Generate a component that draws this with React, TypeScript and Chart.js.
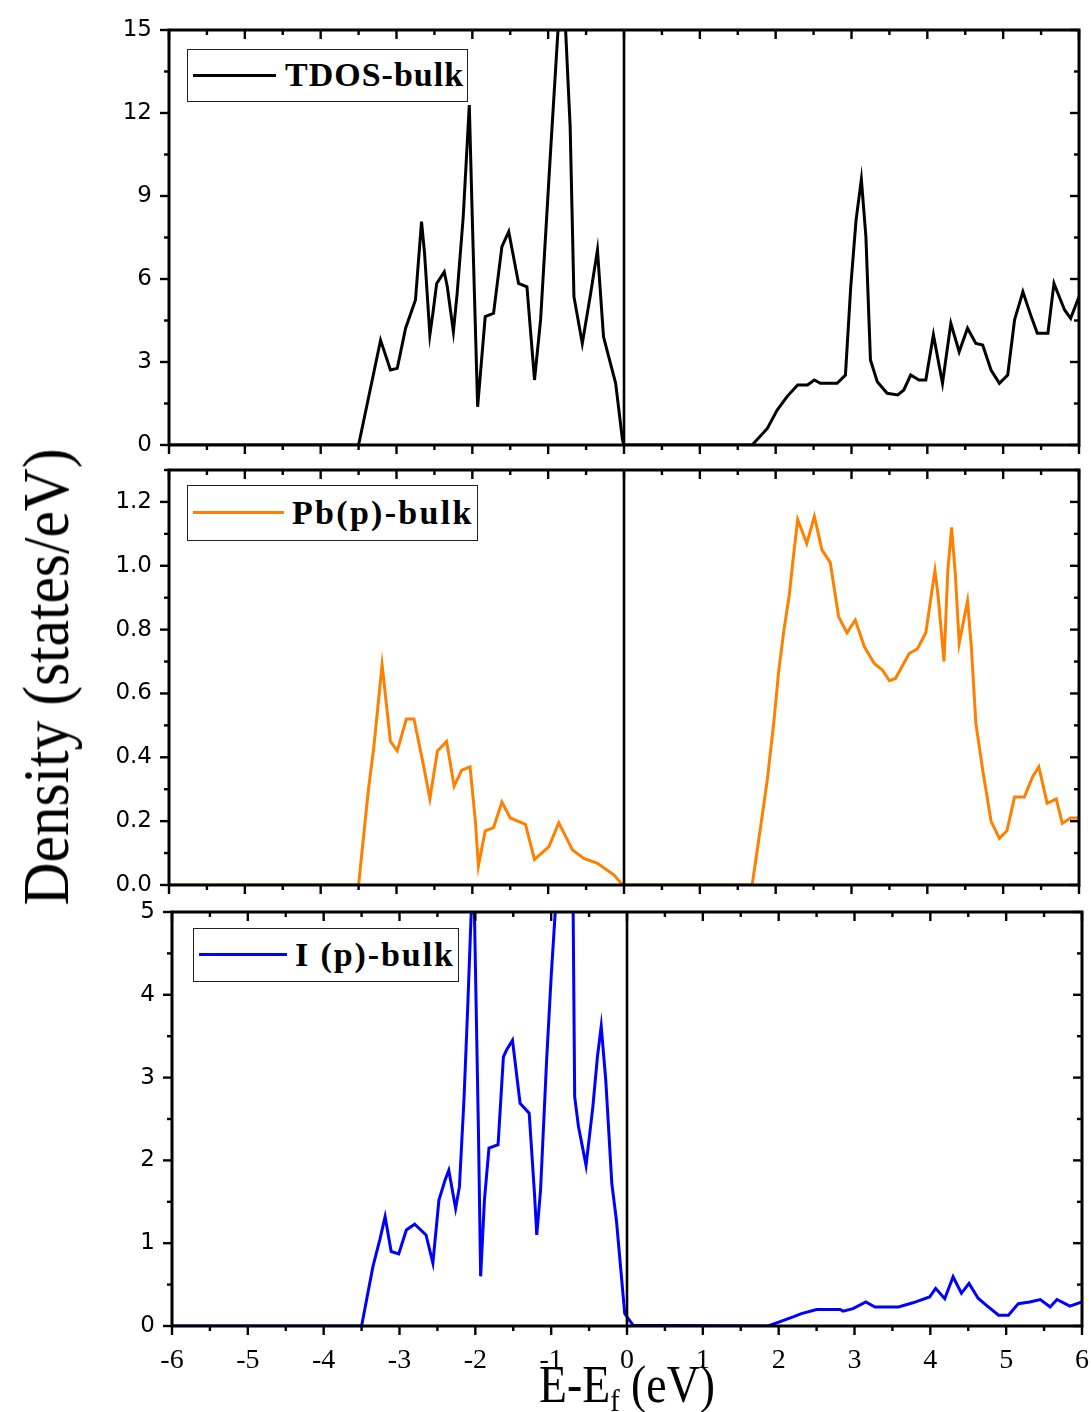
import React, { useEffect, useRef } from 'react';
import { Chart, registerables } from 'chart.js';

Chart.register(...registerables);

// ---------- data ----------
const xTickValues = [-6, -5, -4, -3, -2, -1, 0, 1, 2, 3, 4, 5, 6];

const tdosE = [-6, -3.50, -3.21, -3.08, -2.99, -2.88, -2.75, -2.67, -2.63, -2.56, -2.52, -2.47, -2.37, -2.33, -2.25, -2.20, -2.12, -2.04, -2.00, -1.93, -1.83, -1.72, -1.61, -1.52, -1.39, -1.28, -1.18, -1.10, -0.97, -0.83, -0.77, -0.71, -0.66, -0.55, -0.44, -0.35, -0.27, -0.11, -0.02, 0.0, 1.69, 1.89, 2.02, 2.15, 2.29, 2.42, 2.51, 2.59, 2.81, 2.92, 2.99, 3.06, 3.13, 3.19, 3.25, 3.34, 3.47, 3.61, 3.69, 3.78, 3.89, 3.98, 4.08, 4.20, 4.31, 4.42, 4.53, 4.64, 4.73, 4.84, 4.95, 5.06, 5.15, 5.26, 5.37, 5.45, 5.59, 5.67, 5.81, 5.89, 6.0];
const tdosDOS = [0, 0, 3.79, 2.71, 2.77, 4.22, 5.24, 8.07, 6.93, 3.98, 4.76, 5.84, 6.26, 5.72, 4.10, 5.48, 8.25, 12.29, 8.13, 1.38, 4.64, 4.76, 7.17, 7.71, 5.84, 5.72, 2.35, 4.52, 10.54, 16.8, 15.0, 11.5, 5.36, 3.67, 5.48, 7.05, 3.91, 2.23, 0.18, 0, 0, 0.60, 1.26, 1.75, 2.17, 2.17, 2.35, 2.23, 2.23, 2.53, 5.72, 8.13, 9.60, 7.53, 3.07, 2.29, 1.87, 1.81, 1.99, 2.53, 2.35, 2.35, 3.98, 2.23, 4.40, 3.37, 4.22, 3.67, 3.61, 2.71, 2.23, 2.53, 4.52, 5.54, 4.64, 4.04, 4.04, 5.84, 4.88, 4.58, 5.36];

const pbE = [-6, -3.50, -3.37, -3.30, -3.19, -3.08, -2.99, -2.87, -2.77, -2.64, -2.56, -2.46, -2.34, -2.24, -2.14, -2.03, -1.96, -1.92, -1.83, -1.72, -1.61, -1.50, -1.30, -1.18, -0.99, -0.86, -0.68, -0.53, -0.35, -0.13, -0.02, 1.69, 1.80, 1.89, 1.98, 2.04, 2.11, 2.18, 2.23, 2.29, 2.41, 2.51, 2.61, 2.72, 2.83, 2.94, 3.05, 3.17, 3.30, 3.41, 3.50, 3.58, 3.76, 3.87, 3.98, 4.10, 4.14, 4.22, 4.27, 4.32, 4.37, 4.42, 4.53, 4.58, 4.64, 4.73, 4.84, 4.95, 5.05, 5.15, 5.28, 5.39, 5.47, 5.58, 5.70, 5.78, 5.89, 6.0];
const pbDOS = [0, 0, 0.30, 0.43, 0.69, 0.45, 0.42, 0.52, 0.52, 0.37, 0.27, 0.42, 0.45, 0.31, 0.36, 0.37, 0.20, 0.06, 0.17, 0.18, 0.26, 0.21, 0.19, 0.08, 0.12, 0.195, 0.11, 0.083, 0.068, 0.031, 0, 0, 0.18, 0.33, 0.52, 0.67, 0.80, 0.91, 1.02, 1.145, 1.07, 1.155, 1.05, 1.01, 0.84, 0.79, 0.83, 0.746, 0.694, 0.673, 0.64, 0.647, 0.725, 0.74, 0.79, 0.985, 0.91, 0.70, 0.985, 1.12, 0.97, 0.757, 0.89, 0.746, 0.506, 0.36, 0.20, 0.146, 0.17, 0.276, 0.276, 0.34, 0.37, 0.256, 0.27, 0.193, 0.21, 0.21];

const iE = [-6, -3.50, -3.35, -3.26, -3.19, -3.11, -3.01, -2.91, -2.80, -2.65, -2.56, -2.48, -2.40, -2.35, -2.26, -2.21, -2.15, -2.10, -2.03, -2.01, -1.96, -1.93, -1.88, -1.82, -1.70, -1.63, -1.59, -1.51, -1.41, -1.29, -1.22, -1.19, -1.14, -1.06, -1.00, -0.85, -0.77, -0.71, -0.69, -0.64, -0.54, -0.45, -0.39, -0.34, -0.28, -0.20, -0.14, -0.03, 0.00, 0.08, 1.86, 2.01, 2.19, 2.30, 2.50, 2.81, 2.85, 2.98, 3.15, 3.27, 3.58, 3.77, 3.99, 4.07, 4.19, 4.30, 4.41, 4.51, 4.63, 4.74, 4.90, 5.03, 5.16, 5.31, 5.45, 5.58, 5.67, 5.84, 6.0];
const iDOS = [0, 0, 0.72, 1.04, 1.32, 0.90, 0.87, 1.16, 1.23, 1.10, 0.76, 1.52, 1.76, 1.88, 1.42, 1.68, 2.73, 3.86, 5.6, 4.90, 2.41, 0.60, 1.52, 2.15, 2.19, 3.25, 3.33, 3.45, 2.69, 2.57, 1.60, 1.10, 1.64, 3.21, 4.22, 6.4, 6.7, 5.0, 2.77, 2.41, 1.94, 2.65, 3.25, 3.62, 2.97, 1.72, 1.28, 0.15, 0.11, 0.01, 0, 0.05, 0.11, 0.15, 0.20, 0.20, 0.18, 0.21, 0.29, 0.23, 0.23, 0.28, 0.35, 0.455, 0.33, 0.595, 0.395, 0.515, 0.335, 0.25, 0.13, 0.13, 0.27, 0.29, 0.32, 0.23, 0.32, 0.24, 0.29];

const seriesLabels = ['TDOS-bulk', 'Pb(p)-bulk', 'I (p)-bulk'];
const seriesColors = ['#000000', '#FF8000', '#0000FF'];
const yMaxes = [15, 1.3, 5];
const yMajorSteps = [3, 0.2, 1];
const yDigits = [0, 1, 0];

// ---------- layout ----------
const W = 1091;
const PAD_TOP = 20;

const framePlugin = {
  id: 'frame',
  afterDatasetsDraw(chart: any, _args: any, opts: any) {
    const { ctx, chartArea: a, scales } = chart;
    const xs = scales.x;
    const ys = scales.y;
    const seg = (x1: number, y1: number, x2: number, y2: number) => {
      ctx.beginPath();
      ctx.moveTo(x1, y1);
      ctx.lineTo(x2, y2);
      ctx.stroke();
    };
    ctx.save();
    ctx.strokeStyle = '#000';
    ctx.lineCap = 'butt';
    // Fermi level line
    ctx.lineWidth = 2.6;
    const x0 = xs.getPixelForValue(0);
    seg(x0, a.top, x0, a.bottom);
    // x ticks (major every 1, minor every 0.5)
    ctx.lineWidth = 2.4;
    for (let k = 0; k <= 24; k++) {
      const v = -6 + k * 0.5;
      const px = xs.getPixelForValue(v);
      const L = k % 2 === 0 ? 9 : 5;
      seg(px, a.bottom, px, a.bottom + L);
      seg(px, a.top, px, a.top + L);
    }
    // y ticks
    const minor = opts.yMajor / 2;
    const n = Math.floor(opts.yMax / minor + 1e-6);
    for (let k = 0; k <= n; k++) {
      const v = k * minor;
      const py = ys.getPixelForValue(v);
      const L = k % 2 === 0 ? 9 : 5;
      seg(a.left, py, a.left - L, py);
      seg(a.right, py, a.right - L, py);
    }
    ctx.lineWidth = 3;
    ctx.strokeRect(a.left, a.top, a.right - a.left, a.bottom - a.top);
    ctx.restore();
  },
};

type Area = { left: number; right: number; top: number; bottom: number };

const zeroPad = (s: any) => {
  s.paddingTop = 0;
  s.paddingBottom = 0;
  s.paddingLeft = 0;
  s.paddingRight = 0;
};

function Panel(props: { idx: number; xs: number[]; ys: number[]; area: Area; showX: boolean }) {
  const ref = useRef<HTMLCanvasElement>(null);
  const { idx, xs, ys, area, showX } = props;
  const bottomH = showX ? 62 : 16;
  const height = area.bottom - area.top + PAD_TOP + bottomH;
  useEffect(() => {
    const major = yMajorSteps[idx];
    const chart = new Chart(ref.current as HTMLCanvasElement, {
      type: 'line',
      data: {
        datasets: [
          {
            label: seriesLabels[idx],
            data: xs.map((x, i) => ({ x, y: ys[i] })),
            borderColor: seriesColors[idx],
            borderWidth: 3,
            pointRadius: 0,
            tension: 0,
            fill: false,
            clip: 0,
          } as any,
        ],
      },
      options: {
        animation: false,
        responsive: false,
        devicePixelRatio: 1,
        layout: { padding: { top: PAD_TOP, left: 0, right: W - area.right, bottom: 0 } },
        plugins: {
          legend: { display: false },
          tooltip: { enabled: false },
          frame: { yMajor: major, yMax: yMaxes[idx] },
        } as any,
        scales: {
          x: {
            type: 'linear',
            min: -6,
            max: 6,
            grid: { display: false, drawTicks: false },
            border: { display: false },
            ticks: {
              display: showX,
              stepSize: 1,
              autoSkip: false,
              maxRotation: 0,
              padding: 18,
              color: '#000',
              font: { family: 'Liberation Serif', size: 28 },
              callback: (v: any) => (xTickValues.includes(Number(v)) ? String(v) : ''),
            },
            afterFit: (s: any) => {
              s.height = bottomH;
              zeroPad(s);
            },
          },
          y: {
            type: 'linear',
            min: 0,
            max: yMaxes[idx],
            grid: { display: false, drawTicks: false },
            border: { display: false },
            ticks: {
              stepSize: major,
              autoSkip: false,
              padding: 17,
              color: '#000',
              font: { family: 'DejaVu Sans', size: 23 },
              callback: (v: any) => {
                const r = Number(v) / major;
                return Math.abs(r - Math.round(r)) < 1e-6 ? Number(v).toFixed(yDigits[idx]) : '';
              },
            },
            afterFit: (s: any) => {
              s.width = area.left;
              zeroPad(s);
            },
          },
        } as any,
      },
      plugins: [framePlugin],
    });
    return () => chart.destroy();
  }, []);
  return (
    <canvas
      ref={ref}
      width={W}
      height={height}
      style={{ position: 'absolute', left: 0, top: area.top - PAD_TOP, width: W, height }}
    />
  );
}

function LegendBox(props: {
  idx: number;
  left: number;
  top: number;
  width: number;
  height: number;
  lineLeft: number;
  lineWidth: number;
  textLeft: number;
  spacing: number;
}) {
  const { idx, left, top, width, height, lineLeft, lineWidth, textLeft, spacing } = props;
  const inner = height - 3;
  return (
    <div
      style={{
        position: 'absolute',
        left,
        top,
        width,
        height,
        boxSizing: 'border-box',
        border: '1.5px solid #222',
        background: '#fff',
      }}
    >
      <div
        style={{
          position: 'absolute',
          left: lineLeft,
          top: inner / 2 - 1.5,
          width: lineWidth,
          height: 3,
          background: seriesColors[idx],
        }}
      />
      <span
        style={{
          position: 'absolute',
          left: textLeft,
          top: 0,
          height: inner,
          lineHeight: `${inner}px`,
          fontFamily: 'Liberation Serif',
          fontWeight: 'bold',
          fontSize: 34,
          letterSpacing: spacing,
          whiteSpace: 'nowrap',
          color: '#000',
        }}
      >
        {seriesLabels[idx]}
      </span>
    </div>
  );
}

export default function App() {
  return (
    <div
      style={{
        position: 'absolute',
        left: 0,
        top: 0,
        width: W,
        height: 1412,
        background: '#fff',
        overflow: 'hidden',
      }}
    >
      <Panel idx={0} xs={tdosE} ys={tdosDOS} area={{ left: 169, right: 1079, top: 30, bottom: 445 }} showX={false} />
      <Panel idx={1} xs={pbE} ys={pbDOS} area={{ left: 169, right: 1079, top: 470, bottom: 885 }} showX={false} />
      <Panel idx={2} xs={iE} ys={iDOS} area={{ left: 172, right: 1082, top: 912, bottom: 1326 }} showX={true} />

      <LegendBox idx={0} left={187} top={49} width={281} height={53} lineLeft={5} lineWidth={83} textLeft={97} spacing={1} />
      <LegendBox idx={1} left={187} top={485} width={291} height={56} lineLeft={5} lineWidth={91} textLeft={104} spacing={2.3} />
      <LegendBox idx={2} left={193} top={928} width={266} height={54} lineLeft={5} lineWidth={88} textLeft={101} spacing={1.9} />

      <div
        style={{
          position: 'absolute',
          left: 46,
          top: 677,
          transform: 'translate(-50%, -50%) rotate(-90deg) scaleX(0.9)',
          fontFamily: 'Liberation Serif',
          fontSize: 66,
          lineHeight: 1,
          whiteSpace: 'nowrap',
          color: '#000',
        }}
      >
        Density (states/eV)
      </div>

      <div
        style={{
          position: 'absolute',
          left: 627,
          top: 1359,
          transform: 'translateX(-50%) scaleX(0.88)',
          fontFamily: 'Liberation Serif',
          fontSize: 52,
          lineHeight: 1,
          whiteSpace: 'nowrap',
          color: '#000',
        }}
      >
        E-E
        <span style={{ fontSize: '0.62em', position: 'relative', top: '0.28em' }}>f</span> (eV)
      </div>
    </div>
  );
}
